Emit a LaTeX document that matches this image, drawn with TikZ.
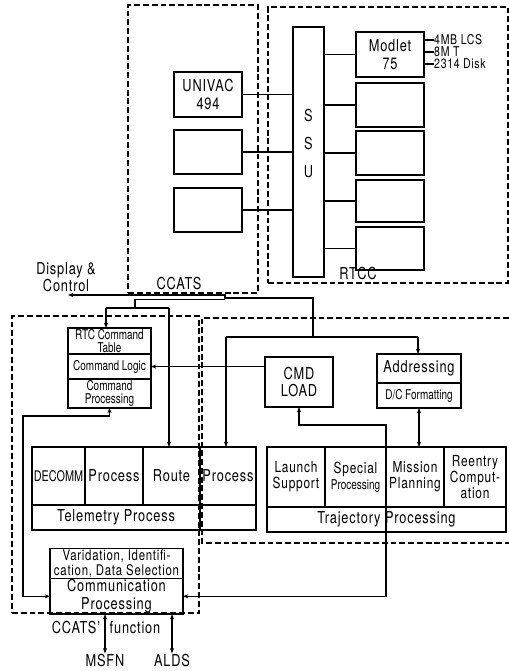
\documentclass[tikz,border=0pt]{standalone}
\usepackage{fontspec}
\setmainfont{TeX Gyre Heros}[FakeStretch=0.78, LetterSpace=5]
\newfontfamily\tightfont{TeX Gyre Heros}[FakeStretch=0.74]
\usetikzlibrary{arrows.meta, positioning, fit}

\tikzset{
  blk/.style   = {rectangle, draw, line width=1.4pt, inner sep=1pt,
                  outer sep=0pt, align=center,
                  font=\fontsize{14}{15}\selectfont},
  sz/.style 2 args = {minimum width=#1*0.03cm, minimum height=#2*0.03cm},
  small/.style = {font=\tightfont\fontsize{11.5}{11.5}\selectfont},
  mid/.style   = {font=\fontsize{12.5}{12.5}\selectfont},
  cell/.style  = {font=\fontsize{13}{13.5}\selectfont},
  zone/.style  = {draw, dash pattern=on 5pt off 2.5pt, line width=0.9pt,
                  inner sep=0pt},
  lbl/.style   = {font=\fontsize{14}{15}\selectfont, inner sep=1pt,
                  align=center},
  note/.style  = {font=\fontsize{11.5}{10.2}\selectfont, inner sep=0pt,
                  align=left, anchor=north west},
  wire/.style  = {line width=0.9pt},
  arr/.style   = {-{Stealth[length=4.5pt, width=3.5pt]}, line width=0.9pt},
  biarr/.style = {{Stealth[length=4.5pt, width=3.5pt]}-{Stealth[length=4.5pt, width=3.5pt]},
                  line width=0.9pt},
}

\begin{document}
\begin{tikzpicture}[x=0.03cm, y=-0.03cm]
\useasboundingbox (0,0) rectangle (509,671);

%% -- Upper part: CCATS and RTCC computers --------------------------------
\node[zone, fit={(128,5) (258,293)}] (ccats) {};
\node[lbl] (ccatslbl) at (179,284) {CCATS};
\node[zone, fit={(268,7) (508,283)}] (rtcc) {};
\node[lbl] (rtcclbl) at (358,274) {RTCC};

\node[blk, sz={68}{45}] (univac) at (208,94.5) {UNIVAC\\494};
\node[blk, sz={68}{44}] (ccb)    at (208,152) {};
\node[blk, sz={68}{44}] (ccc)    at (208,210) {};

\node[blk, sz={31}{250}] (ssu) at (308.5,152) {S\\[9pt]S\\[9pt]U\\[0pt]\rule{0pt}{0pt}};

\node[blk, sz={68}{45}] (model) at (390,54.5) {Modlet\\75};
\node[blk, sz={68}{44}] (r2)    at (390,105) {};
\node[blk, sz={68}{44}] (r3)    at (390,153) {};
\node[blk, sz={68}{42}] (r4)    at (390,201) {};
\node[blk, sz={68}{43}] (r5)    at (390,248.5) {};

\node[note] (spec) at (434,34) {4MB LCS\\8M T\\2314 Disk};
\coordinate (t1) at (434,40);
\coordinate (t2) at (434,52);
\coordinate (t3) at (434,64);

\foreach \b in {univac, ccb, ccc}
  \draw[wire] (\b.east) -- (\b.east -| ssu.west);
\foreach \b in {model, r2, r3, r4, r5}
  \draw[wire] (\b.west -| ssu.east) -- (\b.west);
\foreach \t in {t1, t2, t3}
  \draw[wire] (\t -| model.east) -- (\t);

%% -- Lower part: dashed areas --------------------------------------------
\node[zone, fit={(12,316) (199,613)}] (ccfn) {};
\draw[zone] (509,318) -- (202,318) -- (202,543) -- (509,543);

%% -- Command blocks -------------------------------------------------------
\node[blk, sz={83}{26}, small] (tab) at (109.5,341) {RTC Command\\Table};
\node[blk, sz={83}{25}, small, below=0pt of tab]   (logic) {Command Logic};
\node[blk, sz={83}{25}, small, below=0pt of logic] (cproc) {Command\\Processing};

\node[blk, sz={68}{50}] (cmd) at (299,382) {CMD\\LOAD};

\node[blk, sz={84}{29}] (addr) at (419,368.5) {Addressing};
\node[blk, sz={84}{25}, small, below=0pt of addr] (dcf) {D/C Formatting};

%% -- Telemetry row --------------------------------------------------------
\node[blk, sz={53}{58}, font=\tightfont\fontsize{12.5}{13}\selectfont] (decomm) at (58.5,476) {DECOMM};
\node[blk, sz={58}{58}, right=0pt of decomm] (tproc) {Process};
\node[blk, sz={57}{58}, right=0pt of tproc]  (route) {Route};
\node[blk, sz={56}{58}, right=0pt of route]  (pproc) {Process};
\node[blk, sz={168}{25}, below right=0pt and 0pt of decomm.south west] (telem) {Telemetry Process};
\node[blk, sz={56}{25}, right=0pt of telem] (tblank) {};

%% -- Trajectory row -------------------------------------------------------
\node[blk, sz={58}{60}, cell] (launch) at (296,477) {Launch\\Support};
\node[blk, sz={61}{60}, cell, right=0pt of launch]  (special)
     {Special\\{\tightfont\fontsize{11.5}{12}\selectfont Processing}};
\node[blk, sz={58}{60}, cell, right=0pt of special] (mission) {Mission\\Planning};
\node[blk, sz={62}{60}, cell, right=0pt of mission] (reentry) {Reentry\\Comput-\\ation};
\node[blk, sz={239}{25}, below right=0pt and 0pt of launch.south west] (traj) {Trajectory Processing};

%% -- Communication --------------------------------------------------------
\node[blk, sz={133}{29}, mid] (valid) at (116.5,563.5) {Varidation, Identifi-\\cation, Data Selection};
\node[blk, sz={133}{30}, below=0pt of valid] (comm) {Communication\\Processing};

%% -- Outside labels -------------------------------------------------------
\node[lbl] (disp) at (66,277) {Display \&\\Control};
\node[lbl] (fnl)  at (76,628)  {CCATS'};
\node[lbl] (fnr)  at (135,628) {function};
\node[lbl] (msfn) at (105,661) {MSFN};
\node[lbl] (alds) at (172,661) {ALDS};

%% -- Bus to Display & Control ---------------------------------------------
\coordinate (trunk)   at (313,337);
\coordinate (dispend) at (68,295);
\coordinate (tapM)    at (135,308);
\coordinate (tapL)    at (106,308);
\coordinate (tapR)    at (169,308);
\draw[arr]  (trunk) -- (313,298) -- (225,298) -- (225,295) -- (dispend);
\draw[wire] (225,299.5) -| (tapM);
\draw[wire] (tapL) -- (tapR);
\draw[arr]  (tapL) -- (tapL |- tab.north);
\draw[arr]  (tapR) -- (tapR |- route.north);

\coordinate (busL) at (226,337);
\coordinate (busR) at (418,337);
\draw[wire] (busL) -- (busR);
\draw[arr]  (busL) -- (busL |- pproc.north);
\draw[arr]  (busR) -- (busR |- addr.north);

%% -- Other links ----------------------------------------------------------
\draw[arr]   (logic.east -| cmd.west) -- (logic.east);
\draw[biarr] (dcf.south) -- (dcf.south |- mission.north);

\coordinate (kink)  at (386,425);
\draw[biarr] (cmd.south) |- (kink) -- (kink |- comm.east) -- (comm.east);

\coordinate (loopL) at (23,416);
\draw[biarr] (cproc.south) |- (loopL) |- (comm.west);

\draw[biarr] (comm.south -| msfn) -- (msfn.north);
\draw[biarr] (comm.south -| alds) -- (alds.north);

\end{tikzpicture}
\end{document}
